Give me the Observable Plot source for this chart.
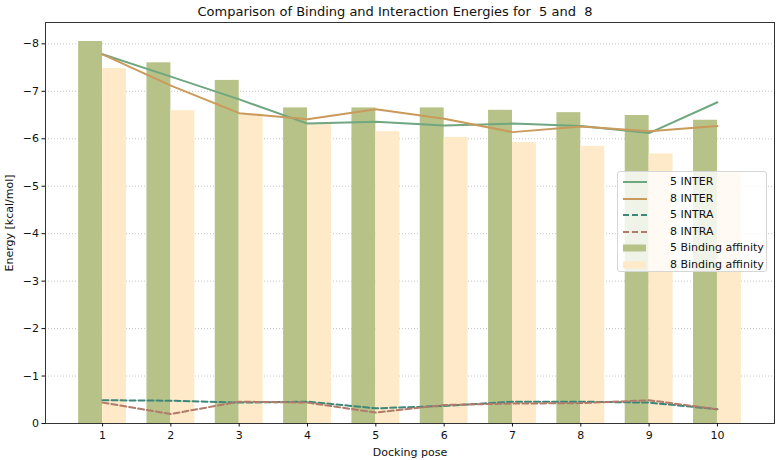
<!DOCTYPE html>
<html>
<head>
<meta charset="utf-8">
<script src="https://cdn.jsdelivr.net/npm/d3@7"></script>
<script src="https://cdn.jsdelivr.net/npm/@observablehq/plot@0.6"></script>
<style>
  html, body { margin: 0; padding: 0; background: #fff; }
  #wrap { position: relative; width: 779px; height: 460px; font-family: "DejaVu Sans", sans-serif; }
  #legend { position: absolute; left: 617px; top: 171px; width: 150px; height: 101px;
    background: rgba(255,255,255,0.8); border: 1px solid #d6d6d6; border-radius: 3px; box-sizing: border-box; }
  .row { position: absolute; left: 0; height: 16px; width: 150px; font-size: 11px; color: #111; }
  .row svg { position: absolute; left: 4px; top: 0; }
  .row span { position: absolute; left: 52px; top: 1px; white-space: pre; }
</style>
</head>
<body>
<div id="wrap"></div>
<script>
const title = "Comparison of Binding and Interaction Energies for  5 and  8";
const xLabel = "Docking pose";
const yLabel = "Energy [kcal/mol]";
const poses = [1, 2, 3, 4, 5, 6, 7, 8, 9, 10];
const bind5 = [-8.05, -7.60, -7.23, -6.65, -6.65, -6.65, -6.60, -6.55, -6.49, -6.39];
const bind8 = [-7.48, -6.59, -6.52, -6.30, -6.15, -6.03, -5.92, -5.84, -5.68, -5.27];
const inter5 = [-7.78, -7.31, -6.83, -6.32, -6.36, -6.28, -6.32, -6.27, -6.12, -6.77];
const inter8 = [-7.78, -7.12, -6.54, -6.41, -6.62, -6.42, -6.14, -6.26, -6.16, -6.27];
const intra5 = [-0.49, -0.48, -0.44, -0.46, -0.32, -0.37, -0.46, -0.46, -0.44, -0.30];
const intra8 = [-0.44, -0.20, -0.46, -0.44, -0.23, -0.39, -0.42, -0.43, -0.49, -0.30];
const yTicks = [0, -1, -2, -3, -4, -5, -6, -7, -8];
const barWidth = 0.35;

const series = [
  {name: "5 INTER", values: inter5, color: "#6fa780", dash: null},
  {name: "8 INTER", values: inter8, color: "#c99a5b", dash: null},
  {name: "5 INTRA", values: intra5, color: "#3d877a", dash: "6,3"},
  {name: "8 INTRA", values: intra8, color: "#b27a6a", dash: "6,3"}
];
const bars = [
  {name: "5 Binding affinity", values: bind5, color: "#b6c287", offset: -1},
  {name: "8 Binding affinity", values: bind8, color: "#feeac8", offset: 0}
];

const barData = bars.flatMap(b => poses.map((p, i) => ({pose: p, v: b.values[i], name: b.name, color: b.color, offset: b.offset})));
const lineData = series.flatMap(s => poses.map((p, i) => ({pose: p, v: s.values[i], name: s.name})));

const marks = [
  Plot.gridY(yTicks.filter(t => t !== 0), {stroke: "#b8b8b8", strokeOpacity: 1, strokeDasharray: "1,2", strokeWidth: 0.8}),
  Plot.rect(barData, {
    x1: d => d.pose + d.offset * barWidth,
    x2: d => d.pose + (d.offset + 1) * barWidth,
    y1: 0, y2: "v", fill: d => d.color
  }),
  ...series.map(s => Plot.line(lineData.filter(d => d.name === s.name), {
    x: "pose", y: "v", stroke: s.color, strokeWidth: 2, strokeDasharray: s.dash
  })),
  Plot.frame({stroke: "#333", strokeWidth: 1}),
  Plot.axisX({ticks: poses, tickSize: 3.5, tickPadding: 4, label: xLabel, labelAnchor: "center", labelArrow: "none", labelOffset: 32, fontSize: 11, fill: "#111"}),
  Plot.axisY({ticks: yTicks, tickSize: 3.5, tickPadding: 3, tickFormat: d => d === 0 ? "0" : d3.format("")(d), label: yLabel, labelAnchor: "center", labelArrow: "none", labelOffset: 40, fontSize: 11, fill: "#111"}),
  Plot.text([title], {frameAnchor: "top", dx: -15, dy: -16, text: d => d, fontSize: 13, fill: "#111"})
];

const chart = Plot.plot({
  width: 779, height: 460,
  marginTop: 22, marginLeft: 45, marginRight: 5, marginBottom: 37,
  x: {type: "linear", domain: [0.165, 10.835]},
  y: {type: "linear", domain: [0, -8.45], range: [423, 22]},
  style: {fontFamily: "DejaVu Sans, sans-serif", fontSize: "11px", color: "#111", background: "#fff"},
  marks
});
const wrap = document.getElementById("wrap");
wrap.appendChild(chart);

const legend = document.createElement("div");
legend.id = "legend";
const entries = [
  ...series.map(s => ({name: s.name, kind: "line", color: s.color, dash: s.dash})),
  ...bars.map(b => ({name: b.name, kind: "bar", color: b.color}))
];
entries.forEach((e, i) => {
  const row = document.createElement("div");
  row.className = "row";
  row.style.top = (2 + i * 16.5) + "px";
  const handle = e.kind === "line"
    ? `<line x1="1" x2="25" y1="8" y2="8" stroke="${e.color}" stroke-width="2" ${e.dash ? `stroke-dasharray="${e.dash}"` : ""}/>`
    : `<rect x="1" y="4.5" width="23" height="7" fill="${e.color}"/>`;
  row.innerHTML = `<svg width="28" height="16">${handle}</svg><span></span>`;
  row.querySelector("span").textContent = e.name;
  legend.appendChild(row);
});
wrap.appendChild(legend);
</script>
</body>
</html>
